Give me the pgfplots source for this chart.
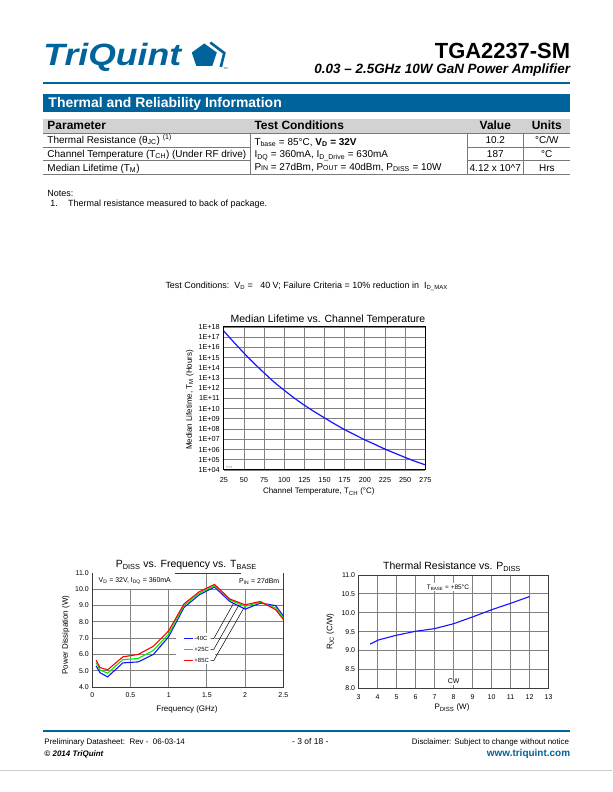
\documentclass[border=0pt]{standalone}
\usepackage{pgfplots}
\pgfplotsset{compat=1.18}
\usepackage{fontspec}
\setmainfont{Liberation Sans}
\definecolor{tqblue}{RGB}{0,99,155}
\definecolor{gridc}{RGB}{128,128,128}
\definecolor{framec}{RGB}{60,60,60}
\definecolor{tabgray}{RGB}{210,210,210}
\definecolor{tabline}{RGB}{120,120,120}
\definecolor{cblue}{RGB}{20,20,255}
\definecolor{cgreen}{RGB}{0,235,0}
\definecolor{cred}{RGB}{255,0,0}
\newcommand{\fs}[1]{\fontsize{#1}{#1}\selectfont}
\begin{document}
\begin{tikzpicture}[x=1bp,y=1bp]
\path[fill=white] (0,0) rectangle (612,792);
% ---------- header ----------
\node[anchor=base west, inner sep=0, text=tqblue] at (43,792-66) {\scalebox{1.19}[1.03]{\fs{30}\bfseries\itshape TriQuint}};
\fill[tqblue] (204,792-43.5) -- (216.5,792-52.5) -- (212,792-66) -- (196,792-66) -- (191.5,792-52.5) -- cycle;
\draw[tqblue, line width=2.6] (210,792-42.5) -- (224,792-53) -- (220.5,792-67);
\node[anchor=base west, inner sep=0, text=tqblue] at (223,792-70) {\fs{3}TM};
\node[anchor=base east, inner sep=0] at (570,792-58.5) {\fs{22}\bfseries TGA2237-SM};
\node[anchor=base east, inner sep=0] at (570,792-74) {\fs{13.5}\bfseries\itshape 0.03 – 2.5GHz 10W GaN Power Amplifier};
\draw[tqblue, line width=2] (43,792-83.5) -- (570,792-83.5);
% ---------- section bar ----------
\fill[tqblue] (43,792-112) rectangle (570,792-94);
\node[anchor=base west, inner sep=0, text=white] at (48,792-108) {\fs{14}\bfseries Thermal and Reliability Information};
% ---------- table ----------
\fill[tabgray] (43,792-133) rectangle (570,792-119);
\begin{scope}[tabline, line width=0.8]
\draw (43,792-133) -- (570,792-133);
\draw (43,792-147) -- (250,792-147);
\draw (467,792-147) -- (570,792-147);
\draw (43,792-160.5) -- (250,792-160.5);
\draw (467,792-160.5) -- (570,792-160.5);
\draw (43,792-174) -- (570,792-174);
\draw (250,792-133) -- (250,792-174);
\draw (467,792-133) -- (467,792-174);
\draw (523,792-133) -- (523,792-174);
\end{scope}
\node[anchor=base west, inner sep=0] at (47,792-130) {\fs{12}\bfseries Parameter};
\node[anchor=base west, inner sep=0] at (254,792-130) {\fs{12}\bfseries Test Conditions};
\node[anchor=base, inner sep=0] at (495,792-130) {\fs{12}\bfseries Value};
\node[anchor=base, inner sep=0] at (546.5,792-130) {\fs{12}\bfseries Units};
\node[anchor=base west, inner sep=0] at (47,792-143.3) {\fs{10}Thermal Resistance (θ\textsubscript{JC}) \textsuperscript{(1)}};
\node[anchor=base west, inner sep=0] at (47,792-157.3) {\fs{10}Channel Temperature (T\textsubscript{CH}) (Under RF drive)};
\node[anchor=base west, inner sep=0] at (47,792-171.4) {\fs{10}Median Lifetime (T\textsubscript{M})};
\node[anchor=base west, inner sep=0] at (254,792-145.1) {\fs{10}T\textsubscript{base} = 85°C, \textbf{V\textsubscript{D} = 32V}};
\node[anchor=base west, inner sep=0] at (254,792-157.6) {\fs{10}I\textsubscript{DQ} = 360mA, I\textsubscript{D\_Drive} = 630mA};
\node[anchor=base west, inner sep=0] at (254,792-170.1) {\fs{10}P{\fs{7}IN} = 27dBm, P{\fs{7}OUT} = 40dBm, P\textsubscript{DISS} = 10W};
\node[anchor=base, inner sep=0] at (495,792-143.3) {\fs{10}10.2};
\node[anchor=base, inner sep=0] at (495,792-157.3) {\fs{10}187};
\node[anchor=base, inner sep=0] at (495,792-171.4) {\fs{10}4.12 x 10\textasciicircum 7};
\node[anchor=base, inner sep=0] at (546.5,792-143.3) {\fs{10}°C/W};
\node[anchor=base, inner sep=0] at (546.5,792-157.3) {\fs{10}°C};
\node[anchor=base, inner sep=0] at (546.5,792-171.4) {\fs{10}Hrs};
% notes
\node[anchor=base west, inner sep=0] at (47,792-196.2) {\fs{9}Notes:};
\node[anchor=base west, inner sep=0] at (50,792-206.2) {\fs{9}1.};
\node[anchor=base west, inner sep=0] at (67.7,792-206.2) {\fs{9}Thermal resistance measured to back of package.};
% test condition line
\node[anchor=base west, inner sep=0] at (165,792-288.2) {\fs{9}Test Conditions:\ \ V\textsubscript{D} = \ \ 40 V; Failure Criteria = 10\% reduction in\ \ I\textsubscript{D\_MAX}};
% ---------- chart 1 ----------
\node[anchor=center, inner sep=0] at (327.7,792-320) {\fs{10.5}Median Lifetime vs. Channel Temperature};
\node[rotate=90, inner sep=0] at (189.5,792-400) {\fs{8}Median Lifetime, T\textsubscript{M} (Hours)};
\node[inner sep=0] at (318.5,792-491.7) {\fs{8}Channel Temperature, T\textsubscript{CH} (°C)};
\begin{axis}[
  at={(223.5bp,322bp)}, anchor=south west, scale only axis,
  width=201.5bp, height=143bp,
  xmin=25, xmax=275, ymode=log, ymin=1e4, ymax=1e18,
  xtick={25,50,75,100,125,150,175,200,225,250,275},
  ytick={1e4,1e5,1e6,1e7,1e8,1e9,1e10,1e11,1e12,1e13,1e14,1e15,1e16,1e17,1e18},
  yticklabels={1E+04,1E+05,1E+06,1E+07,1E+08,1E+09,1E+10,1E+11,1E+12,1E+13,1E+14,1E+15,1E+16,1E+17,1E+18},
  yminorticks=false,
  grid=major, major grid style={gridc, line width=0.9bp},
  axis line style={black, line width=1bp},
  major tick length=0pt,
  tick label style={font=\fs{7.3}},
  xticklabel style={yshift=-3.5bp},
  yticklabel style={xshift=-0.5bp},
  /pgf/number format/assume math mode=true,
]
\addplot[cblue, line width=1.2bp, smooth] coordinates {
(25,4e17) (37.5,3.2e16) (50,2.8e15) (62.5,2.8e14) (75,3.2e13) (87.5,4e12)
(100,6.3e11) (112.5,1.1e11) (125,2.2e10) (137.5,5e9) (150,1.26e9) (162.5,3.2e8)
(175,8.9e7) (187.5,2.8e7) (200,8.9e6) (212.5,3.2e6) (225,1.1e6) (237.5,4.3e5)
(250,1.7e5) (262.5,7e4) (275,3.2e4)};
\node[anchor=west, inner sep=0, text=gray] at (axis cs:28,1.8e4) {\fs{3}RTS};
\end{axis}
% ---------- chart 2 ----------
\node[inner sep=0] at (186,792-565) {\fs{10.5}P\textsubscript{DISS} vs. Frequency vs. T\textsubscript{BASE}};
\node[rotate=90, inner sep=0] at (65.5,792-635) {\fs{8}Power Dissipation (W)};
\node[inner sep=0] at (186.7,792-709) {\fs{8}Frequency (GHz)};
\begin{axis}[
  at={(92bp,105bp)}, anchor=south west, scale only axis,
  width=191bp, height=114bp,
  xmin=0, xmax=2.5, ymin=4, ymax=11,
  xtick={0,0.5,1,1.5,2,2.5}, ytick={4,5,6,7,8,9,10,11},
  yticklabel style={/pgf/number format/.cd, fixed, fixed zerofill, precision=1},
  xticklabel style={yshift=-2.5bp, /pgf/number format/.cd, fixed, precision=1},
  grid=major, major grid style={gridc, line width=0.9bp},
  axis line style={framec, line width=0.9bp},
  major tick length=0pt,
  tick label style={font=\fs{7}},
  /pgf/number format/assume math mode=true,
]
\addplot[cblue, line width=1.1bp] coordinates {
(0.05,5.30) (0.1,4.88) (0.2,4.62) (0.4,5.48) (0.6,5.54) (0.8,6.0) (1.0,7.09) (1.2,8.88)
(1.4,9.66) (1.6,10.14) (1.8,9.25) (2.0,8.78) (2.2,9.15) (2.4,9.0) (2.5,8.36)};
\addplot[cgreen, line width=1.1bp] coordinates {
(0.05,5.5) (0.1,5.05) (0.2,4.85) (0.4,5.68) (0.6,5.75) (0.8,6.25) (1.0,7.25) (1.2,9.0)
(1.4,9.75) (1.6,10.22) (1.8,9.35) (2.0,8.95) (2.2,9.2) (2.4,8.85) (2.5,8.25)};
\addplot[cred, line width=1.1bp] coordinates {
(0.05,5.65) (0.1,5.2) (0.2,5.05) (0.4,5.85) (0.6,6.0) (0.8,6.5) (1.0,7.45) (1.2,9.1)
(1.4,9.85) (1.6,10.3) (1.8,9.4) (2.0,9.05) (2.2,9.25) (2.4,8.75) (2.5,8.15)};
\fill[white] (axis cs:0.01,10.03) rectangle (axis cs:1.08,10.97);
\node[anchor=west, inner sep=0] at (axis cs:0.08,10.5) {\fs{7}V\textsubscript{D} = 32V, I\textsubscript{DQ} = 360mA};
\fill[white] (axis cs:1.95,10.03) rectangle (axis cs:2.49,10.97);
\node[anchor=east, inner sep=0] at (axis cs:2.45,10.5) {\fs{7}P\textsubscript{IN} = 27dBm};
\fill[white] (axis cs:1.1,5.42) rectangle (axis cs:1.6,7.3);
\draw[cblue, line width=1.1bp] (axis cs:1.195,6.97) -- (axis cs:1.32,6.97);
\draw[cgreen, line width=1.1bp] (axis cs:1.195,6.31) -- (axis cs:1.32,6.31);
\draw[cred, line width=1.1bp] (axis cs:1.195,5.63) -- (axis cs:1.32,5.63);
\node[anchor=west, inner sep=0] at (axis cs:1.335,6.97) {\fs{6}-40C};
\node[anchor=west, inner sep=0] at (axis cs:1.335,6.31) {\fs{6}+25C};
\node[anchor=west, inner sep=0] at (axis cs:1.335,5.63) {\fs{6}+85C};
\draw[black, line width=0.5bp] (axis cs:1.55,6.97) -- (axis cs:1.59,6.97) -- (axis cs:1.85,9.15);
\draw[black, line width=0.5bp] (axis cs:1.55,6.31) -- (axis cs:1.59,6.31) -- (axis cs:1.92,9.05);
\draw[black, line width=0.5bp] (axis cs:1.55,5.63) -- (axis cs:1.59,5.63) -- (axis cs:1.99,8.9);
\end{axis}
% ---------- chart 3 ----------
\node[inner sep=0] at (451.7,792-566.7) {\fs{10.5}Thermal Resistance vs. P\textsubscript{DISS}};
\node[rotate=90, inner sep=0] at (330,792-631.7) {\fs{8}R\textsubscript{JC} (C/W)};
\node[inner sep=0] at (451.7,792-707.7) {\fs{8}P\textsubscript{DISS} (W)};
\begin{axis}[
  at={(358.3bp,103.7bp)}, anchor=south west, scale only axis,
  width=190bp, height=113.3bp,
  xmin=3, xmax=13, ymin=8, ymax=11,
  xtick={3,4,5,6,7,8,9,10,11,12,13}, ytick={8,8.5,9,9.5,10,10.5,11},
  yticklabel style={/pgf/number format/.cd, fixed, fixed zerofill, precision=1},
  xticklabel style={yshift=-2.5bp},
  grid=major, major grid style={gridc, line width=0.9bp},
  axis line style={framec, line width=0.9bp},
  major tick length=0pt,
  tick label style={font=\fs{7}},
  /pgf/number format/assume math mode=true,
]
\addplot[cblue, line width=1.1bp] coordinates {
(3.6,9.17) (4.05,9.28) (4.95,9.40) (6.0,9.51) (7.0,9.58) (8.0,9.71) (9.0,9.89)
(10.0,10.08) (11.0,10.25) (12.0,10.43)};
\node[fill=white, inner sep=1.2] at (axis cs:7.7,10.67) {\fs{6.5}T\textsubscript{BASE} = +85°C};
\node[fill=white, inner sep=1.2] at (axis cs:8.0,8.18) {\fs{7}CW};
\end{axis}
% ---------- footer ----------
\draw[tqblue, line width=2] (43,792-731) -- (570,792-731);
\node[anchor=base west, inner sep=0] at (44,792-744.5) {\fs{8}Preliminary Datasheet:\ \ Rev -\ \ 06-03-14};
\node[anchor=base west, inner sep=0] at (44,792-756.5) {\fs{8}\bfseries\itshape © 2014 TriQuint};
\node[anchor=base, inner sep=0] at (310,792-745) {\fs{8.5}- 3 of 18 -};
\node[anchor=base east, inner sep=0] at (569,792-744.5) {\fs{8}Disclaimer: Subject to change without notice};
\node[anchor=base east, inner sep=0, text=tqblue] at (570,792-757) {\fs{10}\bfseries www.triquint.com};
\draw[black!20, line width=0.6] (0,792-770) -- (612,792-770);
\end{tikzpicture}
\end{document}
